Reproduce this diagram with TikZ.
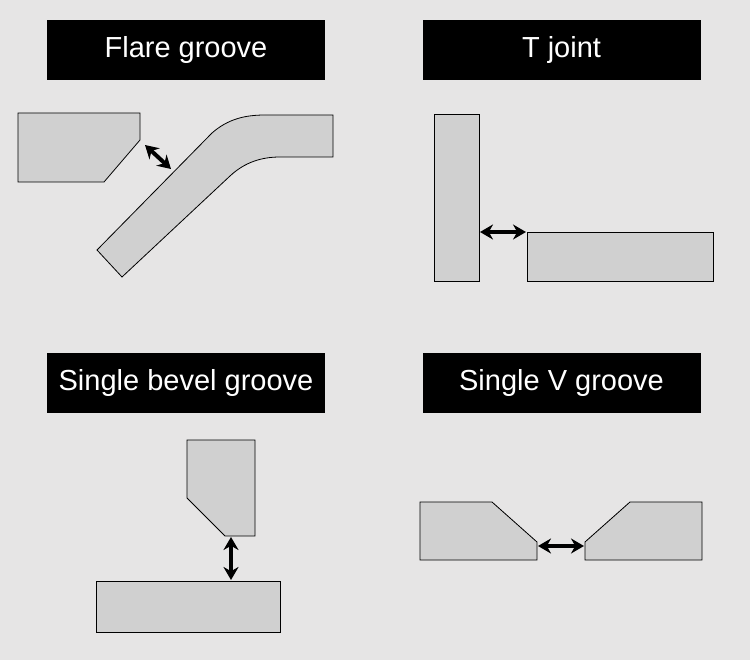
\documentclass[tikz,border=0pt]{standalone}
\usepackage{fontspec}
\setmainfont{Liberation Sans}
\usetikzlibrary{arrows.meta}
\definecolor{bg}{HTML}{E6E5E5}
\definecolor{plate}{HTML}{D0D0D0}
\tikzset{
  title/.style = {fill=black, text=white, minimum width=278pt, minimum height=60pt,
    inner sep=0pt, font=\fontsize{29}{32}\selectfont},
  part/.style = {fill=plate, draw=black, line width=0.8pt, line join=miter},
  gap/.style = {line width=4pt, arrows={Stealth[length=13pt,width=15pt]-Stealth[length=13pt,width=15pt]}}
}
\begin{document}
\begin{tikzpicture}[x=1pt,y=-1pt]
  \fill[bg] (0,0) rectangle (750,660);
  \useasboundingbox (0,0) rectangle (750,660);
  %%% titles
  \node[title] (flare) at (186,50) {Flare groove};
  \node[title] (tjoint) at (561.5,50) {T joint};
  \node[title] (bevel) at (186,383) {Single bevel groove};
  \node[title] (vgroove) at (561.5,383) {Single V groove};
  %%% flare groove
  \draw[part] (18,113) -- (140,113) -- (140,140) -- (104,182) -- (18,182) -- cycle;
  \draw[part] (97,250) -- (212,133) .. controls (228,119) and (245,115) .. (265,115)
    -- (333,115) -- (333,157) -- (280,157) .. controls (262,157) and (245,162) .. (230,176)
    -- (122,277) -- cycle;
  \coordinate (f1) at (145,145);
  \coordinate (f2) at (171,169);
  \draw[gap] (f1) -- (f2);
  %%% T joint
  \draw[part] (434,114) rectangle (479,281);
  \draw[part] (527,232) rectangle (713,281);
  \coordinate (t1) at (480,232);
  \coordinate (t2) at (526,232);
  \draw[gap] (t1) -- (t2);
  %%% single bevel
  \draw[part] (187,440) -- (255,440) -- (255,536) -- (225,536) -- (187,498) -- cycle;
  \draw[part] (96,581) rectangle (280,632);
  \coordinate (b1) at (231,537);
  \coordinate (b2) at (231,580);
  \draw[gap] (b1) -- (b2);
  %%% single V
  \draw[part] (420,502) -- (492,502) -- (537,542) -- (537,560) -- (420,560) -- cycle;
  \draw[part] (702,502) -- (630,502) -- (585,542) -- (585,560) -- (702,560) -- cycle;
  \coordinate (v1) at (538,546);
  \coordinate (v2) at (584,546);
  \draw[gap] (v1) -- (v2);
\end{tikzpicture}
\end{document}
